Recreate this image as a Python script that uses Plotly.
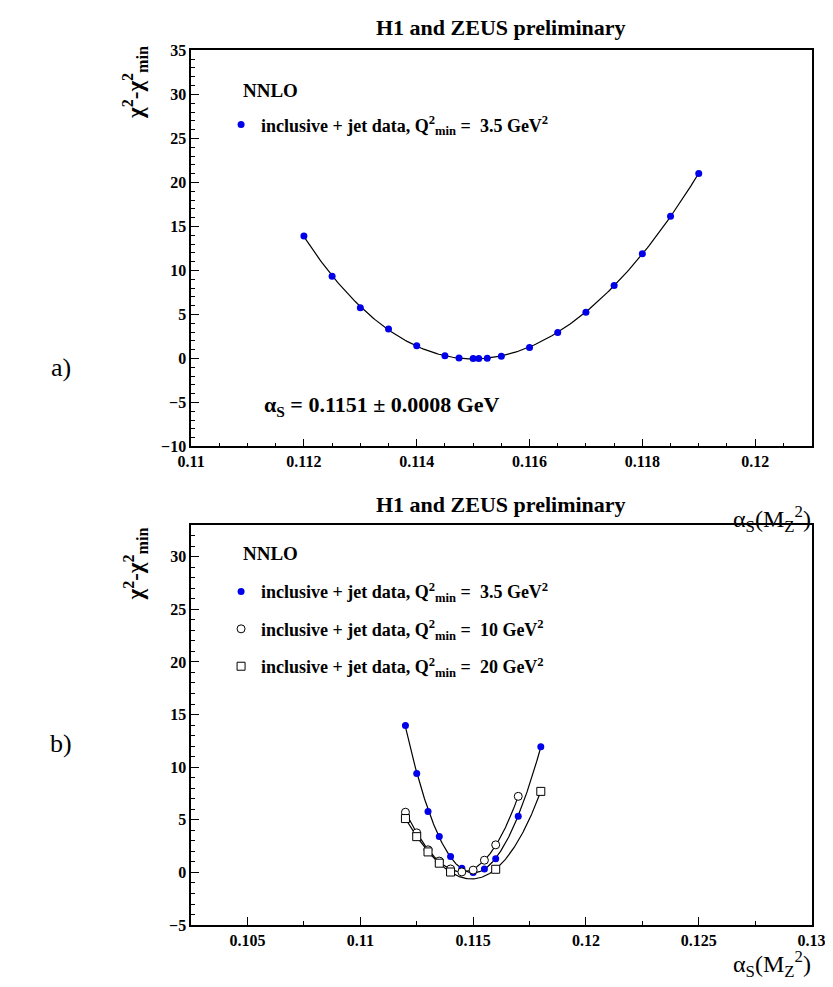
import numpy as np
import plotly.graph_objects as go

# ---------------- data ----------------
# top panel: inclusive + jet data, Q2min = 3.5 GeV2
top_alpha = [0.112, 0.1125, 0.113, 0.1135, 0.114, 0.1145, 0.11475, 0.115, 0.1151,
             0.11525, 0.1155, 0.116, 0.1165, 0.117, 0.1175, 0.118, 0.1185, 0.119]
top_chi2 = [13.9, 9.35, 5.75, 3.35, 1.45, 0.3, 0.05, 0.0, 0.0,
            0.02, 0.25, 1.25, 2.95, 5.25, 8.3, 11.9, 16.15, 21.0]

# bottom panel
b35_alpha = [0.112, 0.1125, 0.113, 0.1135, 0.114, 0.1145, 0.115, 0.1155, 0.116, 0.117, 0.118]
b35_chi2 = [13.95, 9.4, 5.8, 3.42, 1.52, 0.4, 0.0, 0.33, 1.3, 5.33, 11.95]
b10_alpha = [0.112, 0.1125, 0.113, 0.1135, 0.114, 0.1145, 0.115, 0.1155, 0.116, 0.117]
b10_chi2 = [5.72, 3.76, 2.15, 1.08, 0.33, 0.05, 0.22, 1.16, 2.62, 7.23]
b20_alpha = [0.112, 0.1125, 0.113, 0.1135, 0.114, 0.116, 0.118]
b20_chi2 = [5.12, 3.4, 1.95, 0.88, 0.04, 0.3, 7.7]

top_xticks = [0.11, 0.112, 0.114, 0.116, 0.118, 0.12]
bot_xticks = [0.105, 0.11, 0.115, 0.12, 0.125, 0.13]

W, H = 833, 987
FONT = "Liberation Serif, Times New Roman, serif"
BLUE = "rgb(0,0,235)"


def px(xp):
    return xp / W


def py(yp):
    return 1 - yp / H


def fit_curve(xs, ys, deg):
    c = np.polyfit(np.array(xs) - 0.115, ys, deg)
    xx = np.linspace(min(xs), max(xs), 200)
    return xx, np.polyval(c, xx - 0.115)


fig = go.Figure()

# ---- top panel ----
fx, fy = fit_curve(top_alpha, top_chi2, 4)
fig.add_trace(go.Scatter(x=fx, y=fy, mode="lines", line=dict(color="black", width=1.2),
                         showlegend=False, xaxis="x", yaxis="y", hoverinfo="skip"))
fig.add_trace(go.Scatter(x=top_alpha, y=top_chi2, mode="markers",
                         marker=dict(color=BLUE, size=7, symbol="circle"),
                         name="<b>inclusive + jet data, Q<sup>2</sup><sub>min</sub> =  3.5 GeV<sup>2</sup></b>",
                         legend="legend", xaxis="x", yaxis="y"))

# ---- bottom panel ----
series = [
    (b35_alpha, b35_chi2, dict(color=BLUE, size=7, symbol="circle"),
     "<b>inclusive + jet data, Q<sup>2</sup><sub>min</sub> =  3.5 GeV<sup>2</sup></b>"),
    (b10_alpha, b10_chi2, dict(color="white", size=8, symbol="circle",
                                line=dict(color="black", width=1)),
     "<b>inclusive + jet data, Q<sup>2</sup><sub>min</sub> =  10 GeV<sup>2</sup></b>"),
    (b20_alpha, b20_chi2, dict(color="white", size=8, symbol="square",
                                line=dict(color="black", width=1)),
     "<b>inclusive + jet data, Q<sup>2</sup><sub>min</sub> =  20 GeV<sup>2</sup></b>"),
]
for i, (xs, ys, mk, nm) in enumerate(series):
    fx, fy = fit_curve(xs, ys, 3)
    fig.add_trace(go.Scatter(x=fx, y=fy, mode="lines", line=dict(color="black", width=1.2),
                             showlegend=False, xaxis="x2", yaxis="y2", hoverinfo="skip"))
for i, (xs, ys, mk, nm) in enumerate(series):
    fig.add_trace(go.Scatter(x=xs, y=ys, mode="markers", marker=mk, name=nm,
                             legend="legend2", legendgroup=f"g{i}",
                             xaxis="x2", yaxis="y2"))

tickfont = dict(family=FONT, size=16, color="black", weight="bold")
axis_common = dict(showline=True, linecolor="black", linewidth=1.5, mirror=True,
                   ticks="inside", ticklen=8, tickwidth=1, tickcolor="black",
                   showgrid=False, zeroline=False, tickfont=tickfont)
minor_common = dict(ticklen=4, ticks="inside", tickcolor="black", showgrid=False)

fig.update_layout(
    width=W, height=H,
    margin=dict(l=0, r=0, t=0, b=0),
    paper_bgcolor="white", plot_bgcolor="white",
    font=dict(family=FONT, color="black"),
    xaxis=dict(domain=[px(175), px(817)], range=[0.11, 0.121], anchor="y",
               tickvals=top_xticks, ticktext=[f"{v:g}" for v in top_xticks],
               minor=dict(dtick=0.0005, **minor_common), **axis_common),
    yaxis=dict(domain=[py(438), py(35)], range=[-10, 35], anchor="x", dtick=5,
               minor=dict(dtick=1, **minor_common), **axis_common),
    xaxis2=dict(domain=[px(175), px(817)], range=[0.1025, 0.13], anchor="y2",
                tickvals=bot_xticks, ticktext=[f"{v:g}" for v in bot_xticks],
                minor=dict(dtick=0.0025, **minor_common), **axis_common),
    yaxis2=dict(domain=[py(925), py(518)], range=[-5, 33], anchor="x2", dtick=5,
                minor=dict(dtick=1, **minor_common), **axis_common),
    legend=dict(x=px(206), y=py(92), xanchor="left", yanchor="top",
                bgcolor="rgba(0,0,0,0)", borderwidth=0,
                font=dict(family=FONT, size=18, color="black")),
    legend2=dict(x=px(206), y=py(567), xanchor="left", yanchor="top",
                 bgcolor="rgba(0,0,0,0)", borderwidth=0,
                 traceorder="grouped", tracegroupgap=11,
                 font=dict(family=FONT, size=18, color="black")),
)

ann = []
for ytop in (12, 497):
    ann.append(dict(text="<b>H1 and ZEUS preliminary</b>", x=px(496), y=py(ytop),
                    xref="paper", yref="paper", showarrow=False, xanchor="center",
                    yanchor="middle", font=dict(family=FONT, size=22)))
for yc in (76, 547):
    ann.append(dict(text="<b>NNLO</b>", x=px(227), y=py(yc),
                    xref="paper", yref="paper", showarrow=False, xanchor="left",
                    yanchor="middle", font=dict(family=FONT, size=19)))
for yc in (68, 558):
    ann.append(dict(text="<b>χ<sup>2</sup>-χ<sup>2</sup><sub>min</sub></b>", x=px(117), y=py(yc),
                    xref="paper", yref="paper", showarrow=False, textangle=-90,
                    xanchor="center", yanchor="middle", font=dict(family=FONT, size=23)))
for yc in (512, 965):
    ann.append(dict(text="α<sub>S</sub>(M<sub>Z</sub><sup>2</sup>)", x=px(818), y=py(yc),
                    xref="paper", yref="paper", showarrow=False,
                    xanchor="right", yanchor="middle", font=dict(family=FONT, size=24)))
ann.append(dict(text="a)", x=px(40), y=py(358), xref="paper", yref="paper", showarrow=False,
                xanchor="center", yanchor="middle", font=dict(family=FONT, size=26)))
ann.append(dict(text="b)", x=px(40), y=py(740), xref="paper", yref="paper", showarrow=False,
                xanchor="center", yanchor="middle", font=dict(family=FONT, size=26)))
ann.append(dict(text="<b>α<sub>S</sub> = 0.1151 ± 0.0008 GeV</b>", x=px(248), y=py(397),
                xref="paper", yref="paper", showarrow=False, xanchor="left",
                yanchor="middle", font=dict(family=FONT, size=22)))
fig.update_layout(annotations=ann)

fig.write_html("out.html")
